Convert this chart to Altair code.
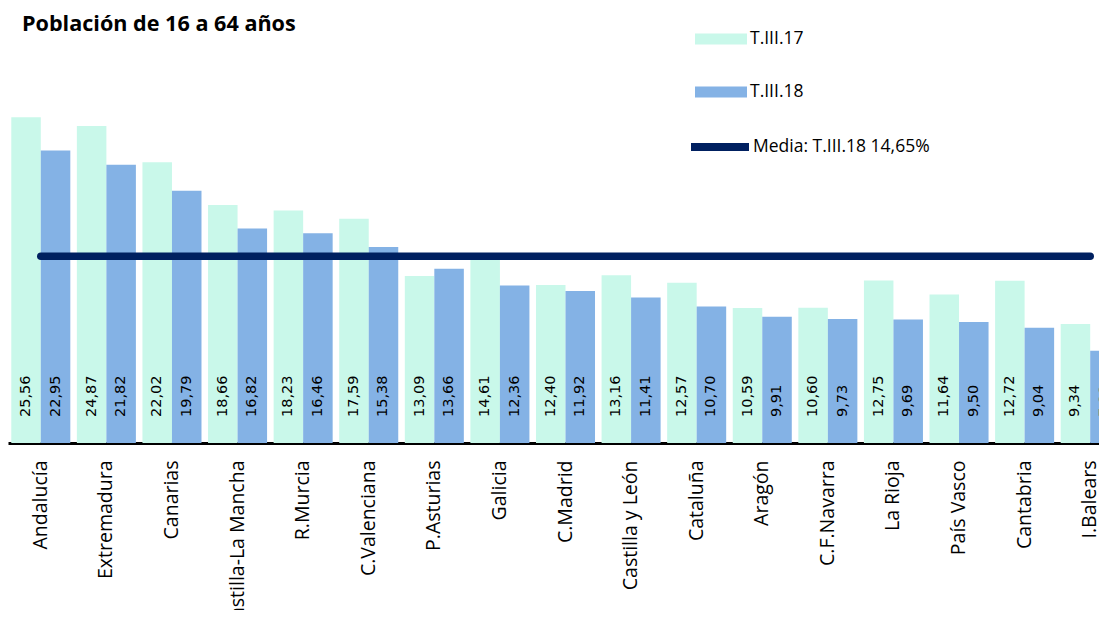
import altair as alt
import pandas as pd

regiones = ["Andalucía", "Extremadura", "Canarias", "Castilla-La Mancha", "R.Murcia",
            "C.Valenciana", "P.Asturias", "Galicia", "C.Madrid", "Castilla y León",
            "Cataluña", "Aragón", "C.F.Navarra", "La Rioja", "País Vasco", "Cantabria",
            "I.Balears"]
t3_17 = [25.56, 24.87, 22.02, 18.66, 18.23, 17.59, 13.09, 14.61, 12.40, 13.16,
         12.57, 10.59, 10.60, 12.75, 11.64, 12.72, 9.34]
t3_18 = [22.95, 21.82, 19.79, 16.82, 16.46, 15.38, 13.66, 12.36, 11.92, 11.41,
         10.70, 9.91, 9.73, 9.69, 9.50, 9.04, 7.23]
series = ["T.III.17", "T.III.18"]
colores = ["#C9F8EA", "#84B2E5"]
media_valor = 14.65
media_nombre = "Media: T.III.18 14,65%"
titulo = "Población de 16 a 64 años"

rows = []
for r, a, b in zip(regiones, t3_17, t3_18):
    for s, v in zip(series, (a, b)):
        rows.append({"region": r, "serie": s, "valor": v,
                     "etiqueta": f"{v:.2f}".replace(".", ",")})
df = pd.DataFrame(rows)

df_media = pd.DataFrame({
    "region": [regiones[0], regiones[-1]],
    "valor": [media_valor, media_valor],
    "serie": [media_nombre, media_nombre],
})

x_scale = alt.Scale(domain=regiones, range=[0, 1115], paddingInner=0.1, paddingOuter=0.05)
y_scale = alt.Scale(domain=[0, 34.12])

x_enc = alt.X("region:N", scale=x_scale, sort=regiones,
              axis=alt.Axis(title=None, labelAngle=270, ticks=False, labelPadding=17,
                            labelFont="Open Sans", labelFontSize=19.5, labelColor="black",
                            domainColor="black", domainWidth=3, labelOverlap=False))

rect_path = "M-1,-0.21H1V0.21H-1Z"

bars = alt.Chart(df).mark_bar(clip=True).encode(
    x=x_enc,
    xOffset=alt.XOffset("serie:N", sort=series),
    y=alt.Y("valor:Q", scale=y_scale, axis=None),
    color=alt.Color("serie:N", sort=series,
                    scale=alt.Scale(domain=series, range=colores),
                    legend=alt.Legend(title=None, orient="none", legendX=687, legendY=5,
                                      symbolType=rect_path, symbolSize=2704,
                                      symbolStrokeWidth=0, padding=0, rowPadding=18,
                                      labelOffset=3, labelFont="Open Sans",
                                      labelFontSize=17.5, labelColor="black",
                                      labelLimit=0)),
)

labels = alt.Chart(df).mark_text(
    clip=True, angle=270, align="left", baseline="middle", dx=26,
    font="DejaVu Sans", fontSize=14.5, color="black"
).encode(
    x=alt.X("region:N", scale=x_scale, sort=regiones),
    xOffset=alt.XOffset("serie:N", sort=series),
    y=alt.datum(0, scale=y_scale),
    text="etiqueta:N",
)

media = alt.Chart(df_media).mark_line(strokeWidth=7.5, strokeCap="round").encode(
    x=alt.X("region:N", scale=x_scale, sort=regiones),
    y=alt.Y("valor:Q", scale=y_scale),
    stroke=alt.Stroke("serie:N", scale=alt.Scale(range=["#002060"]),
                      legend=alt.Legend(title=None, orient="none", legendX=679, legendY=106,
                                        symbolType="stroke", symbolSize=3364,
                                        symbolStrokeWidth=8, padding=0,
                                        labelOffset=0, labelFont="Open Sans",
                                        labelFontSize=17.5, labelColor="black",
                                        labelLimit=0)),
)

chart = alt.layer(bars, labels, media).properties(
    width=1091, height=435,
    autosize=alt.AutoSizeParams(type="none"),
    padding={"left": 0, "top": 0, "right": 0, "bottom": 167},
    title=alt.Title(titulo, anchor="start", frame="group", dx=14, dy=45,
                    baseline="alphabetic", offset=0,
                    font="Open Sans", fontSize=21.6, fontWeight="bold", color="black"),
).configure(background="white").configure_view(stroke=None)

chart.save("out.html", embed_options={"renderer": "svg", "actions": False})
